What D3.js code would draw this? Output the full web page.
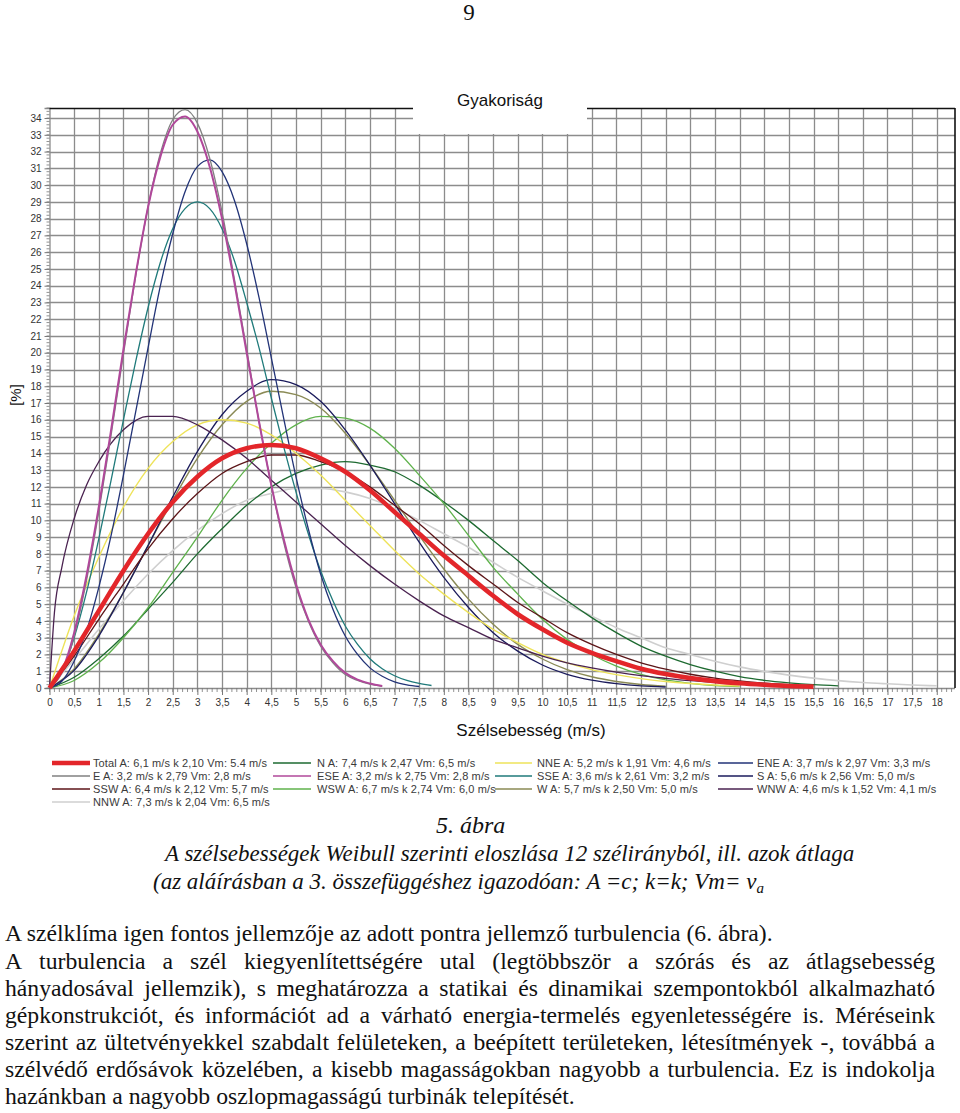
<!DOCTYPE html>
<html><head><meta charset="utf-8">
<script src="https://cdn.jsdelivr.net/npm/d3@7/dist/d3.min.js"></script>
<style>
html,body{margin:0;padding:0;background:#fff;}
svg{display:block;}
</style></head>
<body>
<svg id="c" width="960" height="1113"></svg>
<script>
// ---------- data ----------
const speedFine = [0,0.25,0.5,0.75,1,1.25,1.5,1.75,2,2.25,2.5,2.75,3,3.25,3.5,3.75,4,4.25,4.5,4.75,5,5.25,5.5,5.75,6,6.25,6.5,6.75,7,7.25,7.5,7.75];
const speedCoarse = [0,0.5,1,1.5,2,2.5,3,3.5,4,4.5,5,5.5,6,6.5,7,7.5,8,8.5,9,9.5,10,10.5,11,11.5,12,12.5,13,13.5,14,14.5,15,15.5,16,16.5,17,17.5,18];
const speedWNW = [0,0.1,0.25,0.5,0.75,1,1.5,2,2.5,3,3.5,4,4.5,5,5.5,6,6.5,7,7.5,8,8.5,9,9.5,10,10.5,11,11.5,12,12.5,13,13.5,14];

const valTotal = [0,2.2,4.6,7.0,9.2,11.1,12.6,13.7,14.3,14.5,14.3,13.7,12.9,11.8,10.5,9.2,7.9,6.7,5.5,4.4,3.5,2.7,2.1,1.6,1.15,0.83,0.59,0.41,0.28,0.19,0.12,0.08];
const valN   = [0,0.64,1.75,3.1,4.7,6.3,8.0,9.5,10.9,12.0,12.8,13.3,13.5,13.3,12.9,12.1,11.1,10.0,8.8,7.6,6.3,5.2,4.2,3.3,2.5,1.9,1.4,1.0,0.68,0.46,0.31,0.2,0.13];
const valNNE = [0,4.3,7.8,10.8,13.1,14.7,15.7,16.0,15.8,15.1,14.0,12.7,11.2,9.7,8.2,6.8,5.6,4.5,3.5,2.7,2.0,1.5,1.1,0.8,0.56,0.39,0.27,0.18,0.12];
const valENE = [0,0.4,1.6,3.4,6.0,9.1,12.7,16.5,20.3,24.0,27.1,29.6,31.1,31.5,30.8,29.1,26.5,23.3,19.7,16.1,12.6,9.5,6.8,4.7,3.1,2.0,1.2,0.7,0.37,0.19,0.09];
const valE   = [0,0.9,3.1,6.4,10.5,15.1,19.9,24.6,28.7,31.9,33.9,34.5,33.7,31.6,28.4,24.4,20.2,15.9,12.1,8.7,6.0,4.0,2.5,1.5,0.8,0.45,0.23,0.1];
const valESE = [0,1.0,3.3,6.7,10.8,15.4,20.2,24.7,28.7,31.7,33.6,34.1,33.2,31.1,28.0,24.2,20.0,15.9,12.1,8.9,6.2,4.1,2.6,1.6,0.9,0.5,0.27,0.12];
const valSSE = [0,1.0,3.0,5.7,8.9,12.4,16.0,19.5,22.7,25.4,27.4,28.6,29.0,28.6,27.4,25.5,23.0,20.3,17.3,14.4,11.7,9.2,7.0,5.2,3.7,2.6,1.75,1.15,0.73,0.45,0.27,0.15];
const valS   = [0,1.05,3.1,5.7,8.5,11.4,14.1,16.3,17.7,18.4,18.1,17.1,15.4,13.3,11.0,8.7,6.6,4.8,3.3,2.2,1.37,0.82,0.47,0.26,0.13,0.06];
const valSSW = [0,1.9,4.1,6.2,8.3,10.1,11.6,12.8,13.5,13.9,13.9,13.5,12.9,12.0,10.9,9.8,8.5,7.3,6.2,5.1,4.2,3.3,2.6,2.0,1.5,1.12,0.82,0.59,0.42,0.29,0.2,0.13];
const valWSW = [0,0.45,1.5,3.0,4.8,6.9,9.0,11.2,13.1,14.6,15.7,16.2,16.1,15.5,14.3,12.7,11.0,9.1,7.2,5.6,4.1,2.9,2.0,1.3,0.81,0.48,0.28,0.15,0.08];
const valW   = [0,1.14,3.2,5.7,8.5,11.2,13.7,15.7,17.1,17.7,17.5,16.7,15.2,13.3,11.2,9.1,7.1,5.3,3.8,2.6,1.73,1.1,0.67,0.39,0.21,0.11];
const valWNW = [0,4.5,7.2,10.1,12.1,13.5,15.4,16.2,16.2,15.7,14.8,13.7,12.4,11.1,9.8,8.5,7.3,6.2,5.2,4.3,3.6,2.9,2.4,1.9,1.5,1.2,0.95,0.74,0.58,0.44,0.34,0.26];
const valNNW = [0,1.7,3.5,5.2,6.8,8.2,9.4,10.4,11.2,11.6,11.9,11.9,11.7,11.3,10.7,10.0,9.2,8.4,7.5,6.6,5.8,5.0,4.3,3.6,3.0,2.4,2.0,1.6,1.26,0.99,0.77,0.59,0.44,0.33,0.25,0.18,0.13];

const seriesNames = ["Total","N","NNE","ENE","E","ESE","SSE","S","SSW","WSW","W","WNW","NNW"];
const legendLabels = [
  "Total A: 6,1 m/s k 2,10 Vm: 5.4 m/s",
  "N A: 7,4 m/s k 2,47 Vm: 6,5 m/s",
  "NNE A: 5,2 m/s k 1,91 Vm: 4,6 m/s",
  "ENE A: 3,7 m/s k 2,97 Vm: 3,3 m/s",
  "E A: 3,2 m/s k 2,79 Vm: 2,8 m/s",
  "ESE A: 3,2 m/s k 2,75 Vm: 2,8 m/s",
  "SSE A: 3,6 m/s k 2,61 Vm: 3,2 m/s",
  "S A: 5,6 m/s k 2,56 Vm: 5,0 m/s",
  "SSW A: 6,4 m/s k 2,12 Vm: 5,7 m/s",
  "WSW A: 6,7 m/s k 2,74 Vm: 6,0 m/s",
  "W A: 5,7 m/s k 2,50 Vm: 5,0 m/s",
  "WNW A: 4,6 m/s k 1,52 Vm: 4,1 m/s",
  "NNW A: 7,3 m/s k 2,04 Vm: 6,5 m/s"
];
const xTickValues = [0,0.5,1,1.5,2,2.5,3,3.5,4,4.5,5,5.5,6,6.5,7,7.5,8,8.5,9,9.5,10,10.5,11,11.5,12,12.5,13,13.5,14,14.5,15,15.5,16,16.5,17,17.5,18];
const yTickValues = [0,1,2,3,4,5,6,7,8,9,10,11,12,13,14,15,16,17,18,19,20,21,22,23,24,25,26,27,28,29,30,31,32,33,34];

const chartTitle = "Gyakoriság";
const yAxisTitle = "[%]";
const xAxisTitle = "Szélsebesség (m/s)";
const pageNumber = "9";
const captionLines = [
  "5. ábra",
  "A szélsebességek Weibull szerinti eloszlása 12 szélirányból, ill. azok átlaga",
  "(az aláírásban a 3. összefüggéshez igazodóan: A =c; k=k; Vm= v"
];
const captionSub = "a";
const bodyFirst = "A szélklíma igen fontos jellemzője az adott pontra jellemző turbulencia (6. ábra).";
const bodyLines = [
  "A turbulencia a szél kiegyenlítettségére utal (legtöbbször a szórás és az átlagsebesség",
  "hányadosával jellemzik), s meghatározza a statikai és dinamikai szempontokból alkalmazható",
  "gépkonstrukciót, és információt ad a várható energia-termelés egyenletességére is. Méréseink",
  "szerint az ültetvényekkel szabdalt felületeken, a beépített területeken, létesítmények -, továbbá a",
  "szélvédő erdősávok közelében, a kisebb magasságokban nagyobb a turbulencia. Ez is indokolja",
  "hazánkban a nagyobb oszlopmagasságú turbinák telepítését."
];

// ---------- styles ----------
const styles = {
  Total:{color:"#e3262a", w:4.6, xs:speedCoarse, ys:valTotal},
  N:{color:"#1d6a30", w:1.3, xs:speedCoarse, ys:valN},
  NNE:{color:"#eee35a", w:1.4, xs:speedCoarse, ys:valNNE},
  ENE:{color:"#223377", w:1.3, xs:speedFine, ys:valENE},
  E:{color:"#808080", w:1.3, xs:speedFine, ys:valE},
  ESE:{color:"#b0489a", w:2.0, xs:speedFine, ys:valESE},
  SSE:{color:"#1f7a7a", w:1.3, xs:speedFine, ys:valSSE},
  S:{color:"#1b1b5c", w:1.3, xs:speedCoarse, ys:valS},
  SSW:{color:"#5c1518", w:1.3, xs:speedCoarse, ys:valSSW},
  WSW:{color:"#5fb24c", w:1.3, xs:speedCoarse, ys:valWSW},
  W:{color:"#8a8a55", w:1.4, xs:speedCoarse, ys:valW},
  WNW:{color:"#4a2250", w:1.3, xs:speedWNW, ys:valWNW},
  NNW:{color:"#cfcfcf", w:1.6, xs:speedCoarse, ys:valNNW}
};

const svg = d3.select("#c");
const sans = "'Liberation Sans', Arial, sans-serif";
const serif = "'Liberation Serif', 'Times New Roman', serif";

const pL = 49.5, pR = 955, pT = 108, pB = 688;
const x = d3.scaleLinear().domain([0, 18.37]).range([pL, pR]);
const y = d3.scaleLinear().domain([0, 34.6]).range([pB, pT]);

// grid
const grid = svg.append("g").attr("stroke", "#8c8c8c").attr("stroke-width", 1.3);
grid.selectAll("line.v").data(xTickValues.filter(d => d > 0)).join("line")
  .attr("x1", d => Math.round(x(d)) + 0.5).attr("x2", d => Math.round(x(d)) + 0.5)
  .attr("y1", pT).attr("y2", pB);
grid.selectAll("line.h").data(yTickValues).join("line")
  .attr("y1", d => Math.round(y(d)) + 0.5).attr("y2", d => Math.round(y(d)) + 0.5)
  .attr("x1", pL).attr("x2", pR);

// left axis
const yAxis = d3.axisLeft(y).tickValues(yTickValues).tickSize(5).tickPadding(3).tickFormat(d3.format("d"));
const gy = svg.append("g").attr("transform", `translate(${pL},0)`).call(yAxis);
gy.select(".domain").attr("stroke", "#8c8c8c").attr("stroke-width", 1.3);
gy.selectAll(".tick line").attr("stroke", "#777");
gy.selectAll(".tick text").attr("font-family", sans).attr("font-size", 10).attr("fill", "#333");
const yMinor = d3.range(0, 34.61, 0.2);
svg.append("g").selectAll("line").data(yMinor).join("line")
  .attr("x1", pL - 3).attr("x2", pL).attr("y1", d => y(d)).attr("y2", d => y(d))
  .attr("stroke", "#777").attr("stroke-width", 0.8);

// bottom axis
const xAxis = d3.axisBottom(x).tickValues(xTickValues).tickSize(7).tickPadding(4)
  .tickFormat(d => String(d).replace(".", ","));
const gx = svg.append("g").attr("transform", `translate(0,${pB})`).call(xAxis);
gx.select(".domain").remove();
gx.selectAll(".tick line").attr("stroke", "#777");
gx.selectAll(".tick text").attr("font-family", sans).attr("font-size", 10).attr("fill", "#333");
const xMinor = d3.range(0, 18.31, 0.1);
svg.append("g").selectAll("line").data(xMinor).join("line")
  .attr("x1", d => x(d)).attr("x2", d => x(d)).attr("y1", pB).attr("y2", pB + 4)
  .attr("stroke", "#777").attr("stroke-width", 0.8);

// frame (top & right black)
svg.append("line").attr("x1", pL).attr("x2", pR).attr("y1", pT + 0.5).attr("y2", pT + 0.5)
  .attr("stroke", "#111").attr("stroke-width", 1.6);
svg.append("line").attr("x1", pR).attr("x2", pR).attr("y1", pT).attr("y2", pB)
  .attr("stroke", "#111").attr("stroke-width", 1.6);

// series
const lineGen = d3.line().curve(d3.curveMonotoneX).x(d => x(d[0])).y(d => y(d[1]));
const drawOrder = ["NNW","N","WSW","W","S","SSW","NNE","WNW","SSE","ENE","E","ESE","Total"];
const plot = svg.append("g");
drawOrder.forEach(name => {
  const s = styles[name];
  const pts = s.ys.map((v, i) => [s.xs[i], v]);
  plot.append("path").attr("d", lineGen(pts)).attr("fill", "none")
    .attr("stroke", s.color).attr("stroke-width", s.w).attr("stroke-linejoin", "round");
});

// title box
svg.append("rect").attr("x", 413).attr("y", 80).attr("width", 174).attr("height", 54).attr("fill", "#fff");
svg.append("text").attr("x", 500).attr("y", 106).attr("text-anchor", "middle")
  .attr("font-family", sans).attr("font-size", 17).attr("fill", "#111").text(chartTitle);

// axis titles
svg.append("text").attr("transform", "translate(21,395) rotate(-90)").attr("text-anchor", "middle")
  .attr("font-family", sans).attr("font-size", 15).attr("fill", "#111").text(yAxisTitle);
svg.append("text").attr("x", 531).attr("y", 736).attr("text-anchor", "middle")
  .attr("font-family", sans).attr("font-size", 17).attr("fill", "#111").text(xAxisTitle);

// legend
const colX = [[52, 90, 93], [273, 311, 317], [495, 532, 537], [718, 753, 757]];
const rowY = [763, 776, 789, 802];
const lg = svg.append("g");
seriesNames.forEach((name, i) => {
  const r = Math.floor(i / 4), c = i % 4;
  const s = styles[name];
  lg.append("line").attr("x1", colX[c][0]).attr("x2", colX[c][1]).attr("y1", rowY[r]).attr("y2", rowY[r])
    .attr("stroke", s.color).attr("stroke-width", name === "Total" ? 4.6 : 1.6);
  lg.append("text").attr("x", colX[c][2]).attr("y", rowY[r] + 4)
    .attr("font-family", sans).attr("font-size", 11).attr("letter-spacing", 0.12)
    .attr("fill", "#3a3a3a").text(legendLabels[i]);
});

// page number
svg.append("text").attr("x", 469).attr("y", 20).attr("text-anchor", "middle")
  .attr("font-family", serif).attr("font-size", 23).attr("fill", "#111").text(pageNumber);

// caption (italic)
const capY = [833, 861, 889];
const capX = [436, 165, 153];
captionLines.forEach((t, i) => {
  const tx = svg.append("text").attr("x", capX[i]).attr("y", capY[i])
    .attr("font-family", serif).attr("font-style", "italic").attr("font-size", i === 0 ? 24 : 23)
    .attr("fill", "#111").text(t);
  if (i === 2) {
    tx.append("tspan").attr("font-size", 15).attr("dy", 4).text(captionSub);
  }
});

// body text
const bodySize = 23.7;
svg.append("text").attr("x", 5).attr("y", 941).attr("font-family", serif).attr("font-size", bodySize)
  .attr("fill", "#111").text(bodyFirst);
function justifiedLine(str, yy, x0, x1, justify) {
  const words = str.split(" ");
  const t = svg.append("text").attr("y", yy).attr("font-family", serif).attr("font-size", bodySize).attr("fill", "#111");
  const spans = words.map(w => t.append("tspan").text(w));
  const widths = spans.map(sp => sp.node().getComputedTextLength());
  const total = d3.sum(widths);
  const gap = justify ? (x1 - x0 - total) / (words.length - 1) : bodySize * 0.25;
  let cx = x0;
  spans.forEach((sp, i) => { sp.attr("x", cx); cx += widths[i] + gap; });
}
bodyLines.forEach((l, i) => justifiedLine(l, 969 + i * 27, 5, 935, i < bodyLines.length - 1));
</script>
</body></html>
